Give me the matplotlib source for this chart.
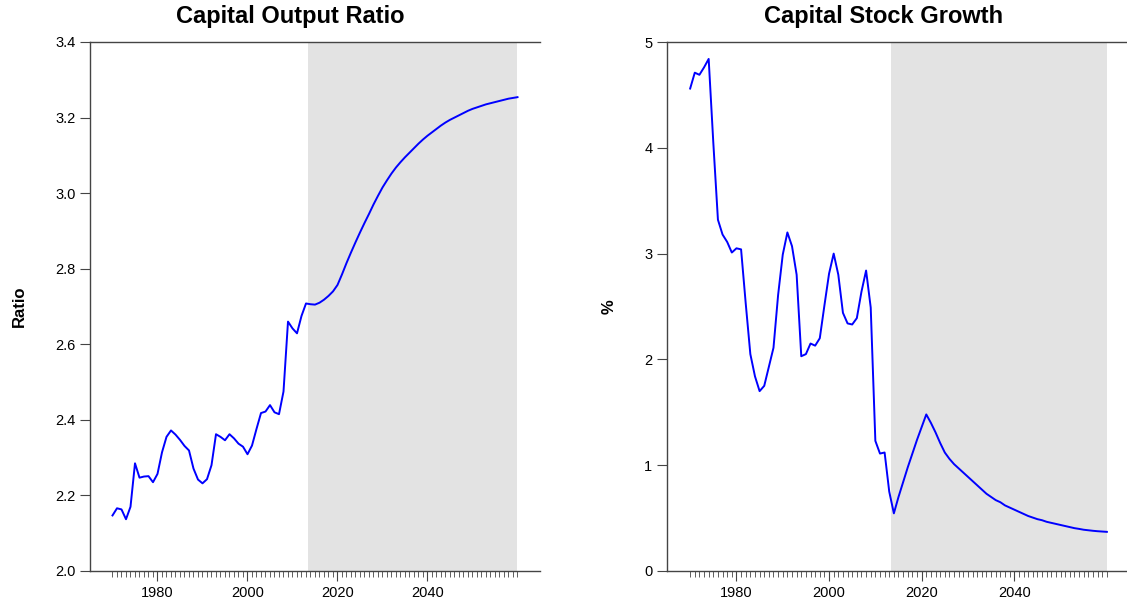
import numpy as np
import matplotlib
matplotlib.use("Agg")
import matplotlib.pyplot as plt
from matplotlib.ticker import MultipleLocator

plt.rcParams['font.family'] = ['Liberation Sans', 'DejaVu Sans']

years = np.arange(1970, 2061)
proj_start = 2013.4

# capital output ratio
ratio_hist = [2.147, 2.166, 2.163, 2.137, 2.170, 2.285, 2.247, 2.250, 2.251, 2.235,
              2.257, 2.314, 2.355, 2.372, 2.361, 2.347, 2.331, 2.319, 2.271, 2.242,
              2.232, 2.243, 2.280, 2.362, 2.355, 2.346, 2.362, 2.351, 2.337, 2.329,
              2.309, 2.332, 2.376, 2.418, 2.422, 2.439, 2.420, 2.415, 2.475, 2.660,
              2.642, 2.629, 2.675, 2.708]
ratio_proj = [2.706, 2.705, 2.710, 2.718, 2.728, 2.740, 2.757, 2.785, 2.815, 2.843,
              2.870, 2.896, 2.921, 2.945, 2.970, 2.993, 3.015, 3.034, 3.052, 3.068,
              3.082, 3.095, 3.107, 3.119, 3.131, 3.142, 3.152, 3.161, 3.170, 3.179,
              3.187, 3.194, 3.200, 3.206, 3.212, 3.218, 3.223, 3.227, 3.231, 3.235,
              3.238, 3.241, 3.244, 3.247, 3.250, 3.252, 3.254]
ratio = ratio_hist + ratio_proj

# capital stock growth (%)
growth_hist = [4.56, 4.71, 4.69, 4.76, 4.84, 4.05, 3.32, 3.18, 3.11, 3.01,
               3.05, 3.04, 2.53, 2.05, 1.84, 1.70, 1.75, 1.93, 2.11, 2.61,
               2.99, 3.20, 3.07, 2.80, 2.03, 2.05, 2.15, 2.13, 2.20, 2.51,
               2.81, 3.00, 2.80, 2.44, 2.34, 2.33, 2.39, 2.64, 2.84, 2.49,
               1.23, 1.11, 1.12, 0.75]
growth_proj = [0.545, 0.70, 0.84, 0.98, 1.11, 1.24, 1.36, 1.48, 1.40, 1.31,
               1.21, 1.12, 1.06, 1.01, 0.97, 0.93, 0.89, 0.85, 0.81, 0.77,
               0.73, 0.70, 0.67, 0.65, 0.62, 0.60, 0.58, 0.56, 0.54, 0.52,
               0.505, 0.49, 0.48, 0.465, 0.455, 0.445, 0.435, 0.425, 0.415, 0.405,
               0.398, 0.39, 0.385, 0.38, 0.376, 0.373, 0.37]
growth = growth_hist + growth_proj

W, H = 1127, 609
fig = plt.figure(figsize=(W / 100, H / 100), dpi=100)
ax1 = fig.add_axes([90 / W, 38 / H, 450 / W, 529 / H])
ax2 = fig.add_axes([667 / W, 38 / H, 463 / W, 529 / H])


def style(ax, title, title_x, ylabel, ylim, ystep):
    ax.axvspan(proj_start, 2060, color='#e3e3e3', lw=0, zorder=0)
    ax.set_xlim(1965, 2065)
    ax.set_ylim(*ylim)
    ax.yaxis.set_major_locator(MultipleLocator(ystep))
    ax.set_xticks(np.arange(1980, 2041, 20))
    ax.set_xticks(years, minor=True)
    ax.spines['right'].set_visible(False)
    for s in ['left', 'top', 'bottom']:
        ax.spines[s].set_color('#444444')
        ax.spines[s].set_linewidth(1)
    ax.tick_params(axis='both', which='major', length=7, labelsize=10.5,
                   direction='out', color='#444444')
    ax.tick_params(axis='x', which='minor', length=4, color='#444444')
    fig.text(title_x / W, 1 - 17 / H, title, fontsize=17, fontweight='bold',
             ha='center', va='center')
    ax.set_ylabel(ylabel, fontsize=12, fontweight='bold', labelpad=20)


ax1.plot(years, ratio, color='#0000ff', lw=1.4)
style(ax1, 'Capital Output Ratio', 290, 'Ratio', (2.0, 3.4), 0.2)
ax1.yaxis.set_major_formatter(matplotlib.ticker.FormatStrFormatter('%.1f'))

ax2.plot(years, growth, color='#0000ff', lw=1.4)
style(ax2, 'Capital Stock Growth', 884, '%', (0, 5), 1)

fig.savefig('out.png', dpi=100)
